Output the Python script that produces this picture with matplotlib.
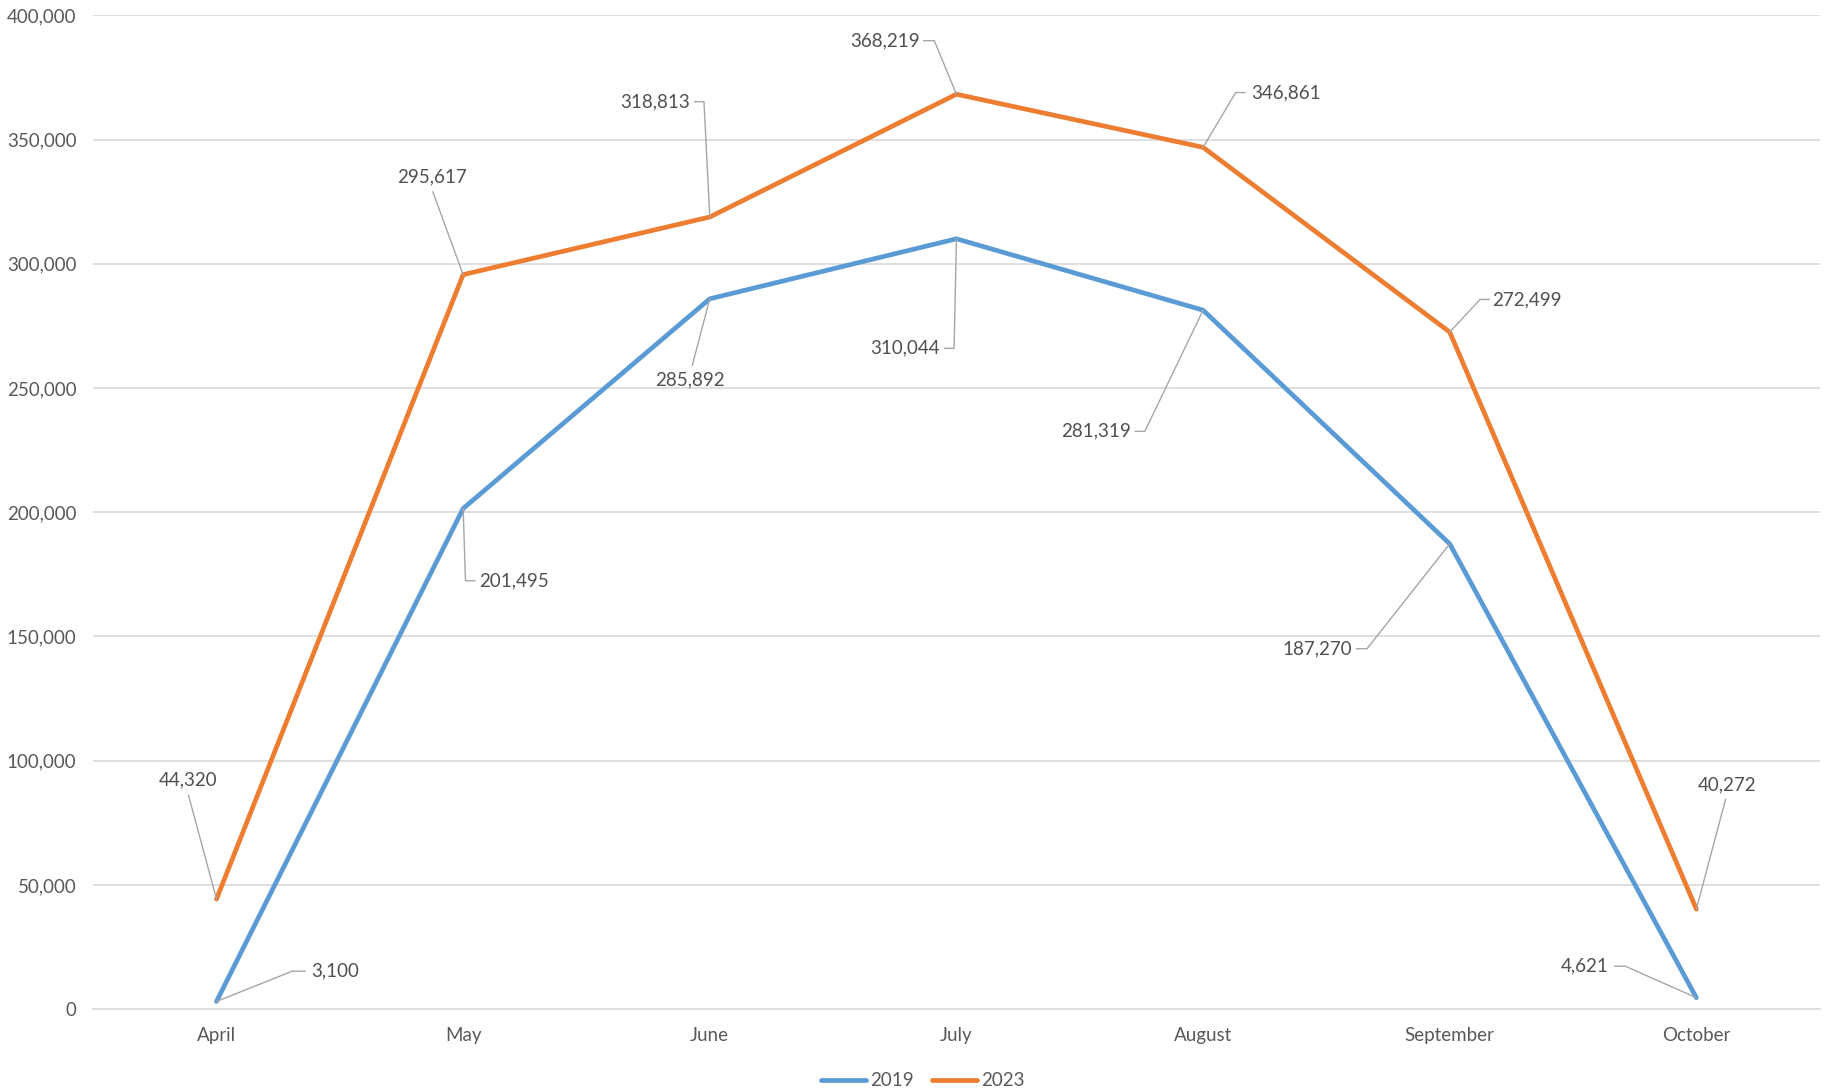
import matplotlib.pyplot as plt
from matplotlib.lines import Line2D
from matplotlib.transforms import IdentityTransform
from matplotlib.ticker import FuncFormatter

months = ["April", "May", "June", "July", "August", "September", "October"]
visits_2019 = [3100, 201495, 285892, 310044, 281319, 187270, 4621]
visits_2023 = [44320, 295617, 318813, 368219, 346861, 272499, 40272]

# label layout, pixels relative to the point (x right, y down):
# text centre, then leader end near the point side and end near the text
lab_2023 = [(-24, -102, -24, -89, -24, -89), (-27, -84, -26, -71, -26, -71),
            (-47, -99, -5, -99, -13, -99), (-61, -46, -19, -46, -28, -46),
            (71, -47, 28, -47, 36, -47), (66, -28, 26, -28, 34, -28),
            (26, -107, 25, -94, 25, -94)]
lab_2019 = [(102, -26, 65, -26, 76, -26), (44, 62, 2, 62, 10, 62),
            (-17, 70, -15, 57, -15, 57), (-44, 94, -2, 94, -10, 94),
            (-92, 104, -50, 104, -58, 104), (-114, 90, -71, 90, -80, 90),
            (-96, -27, -61, -27, -70, -27)]
S = 1827 / 1568

plt.rcParams['font.family'] = ['Lato', 'DejaVu Sans']

fig = plt.figure(figsize=(18.27, 10.91), dpi=100)
ax = fig.add_axes([0.051, 0.075, 0.945, 0.911])

x = range(len(months))
ax.plot(x, visits_2019, color='#5B9BD5', lw=3.4, label='2019', solid_capstyle='round', zorder=3)
ax.plot(x, visits_2023, color='#ED7D31', lw=3.4, label='2023', solid_capstyle='round', zorder=3)

ax.set_xlim(-0.5, len(months) - 0.5)
ax.set_ylim(0, 400000)
ax.set_yticks(range(0, 400001, 50000))
ax.yaxis.set_major_formatter(FuncFormatter(lambda v, p: f"{int(v):,}"))
ax.set_xticks(list(x))
ax.set_xticklabels(months)
ax.grid(axis='y', color='#D9D9D9', lw=1.2)
ax.set_axisbelow(True)
for s in ['top', 'right', 'left']:
    ax.spines[s].set_visible(False)
ax.spines['bottom'].set_color('#D9D9D9')
ax.spines['bottom'].set_linewidth(1.2)
ax.tick_params(length=0, labelsize=13.5, labelcolor='#595959')
ax.tick_params(axis='x', pad=13)
ax.tick_params(axis='y', pad=12)

fig.canvas.draw()
for vals, labs in [(visits_2023, lab_2023), (visits_2019, lab_2019)]:
    for i, (v, lb) in enumerate(zip(vals, labs)):
        tx, ty, ax1, ay1, ax2, ay2 = [c * S for c in lb]
        ax.annotate(f"{v:,}", xy=(i, v), xytext=(tx, -ty), textcoords='offset pixels',
                    ha='center', va='center', fontsize=13.5, color='#505050')
        px, py = ax.transData.transform((i, v))
        fig.add_artist(Line2D([px, px + ax1, px + ax2], [py, py - ay1, py - ay2],
                              transform=IdentityTransform(), color='#A6A6A6', lw=1.0))

fig.legend(loc='lower center', bbox_to_anchor=(0.505, -0.014), ncol=2, frameon=False,
           fontsize=13.5, labelcolor='#595959', handlelength=2.4, handletextpad=0.2,
           columnspacing=1.0)

fig.savefig('out.png', dpi=100)
